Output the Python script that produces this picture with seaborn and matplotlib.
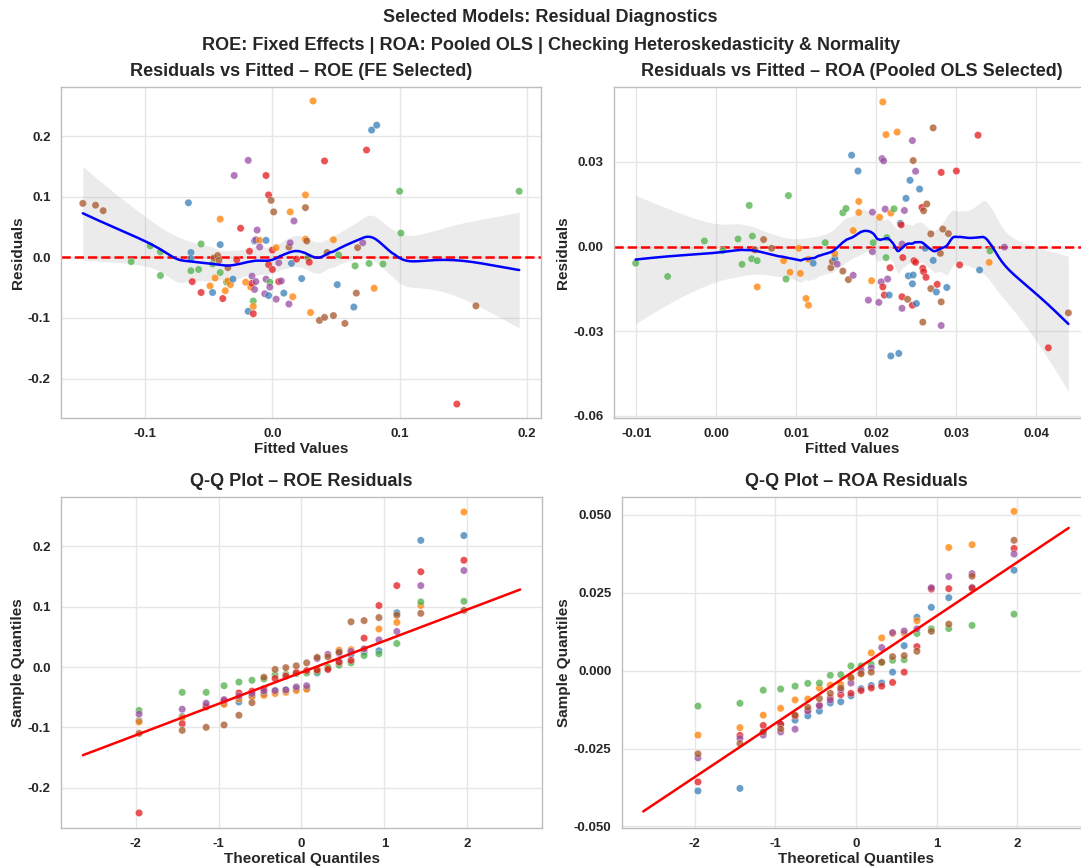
import numpy as np
import pandas as pd
import matplotlib
matplotlib.use("Agg")
import matplotlib.pyplot as plt
import seaborn as sns
from statistics import NormalDist
from matplotlib.ticker import MultipleLocator

# ---------------- data ----------------
firm_names = ["Firm 1", "Firm 2", "Firm 3", "Firm 4", "Firm 5", "Firm 6"]
firm_colors = ["#377eb8", "#ff7f00", "#4daf4a", "#e41a1c", "#984ea3", "#a65628"]
code_to_firm = {"B": "Firm 1", "O": "Firm 2", "G": "Firm 3", "R": "Firm 4", "P": "Firm 5", "N": "Firm 6"}

# ROE (Fixed Effects) residuals vs fitted
roe_fitted = [-0.149, -0.139, -0.133, -0.111, -0.096, -0.088, -0.088, -0.066, -0.064, -0.064,
              -0.064, -0.063, -0.058, -0.056, -0.056, -0.049, -0.047, -0.047, -0.046, -0.045,
              -0.043, -0.041, -0.041, -0.042, -0.041, -0.039, -0.037, -0.036, -0.035, -0.035,
              -0.033, -0.031, -0.028, -0.030, -0.025, -0.021, -0.019, -0.019, -0.018, -0.016,
              -0.017, -0.015, -0.015, -0.015, -0.016, -0.014, -0.013, -0.012, -0.010, -0.010,
              -0.013, -0.014, -0.005, -0.003, -0.001, 0.001, -0.005, -0.006, -0.005, -0.003,
              -0.002, -0.002, -0.003, 0.000, 0.000, 0.003, 0.003, 0.005, 0.005, 0.007,
              0.009, 0.013, 0.013, 0.014, 0.014, 0.016, 0.017, 0.015, 0.019, 0.023,
              0.026, 0.026, 0.026, 0.027, 0.028, 0.029, 0.030, 0.032, 0.041, 0.037,
              0.041, 0.048, 0.048, 0.043, 0.051, 0.052, 0.057, 0.064, 0.065, 0.066,
              0.067, 0.071, 0.074, 0.076, 0.078, 0.082, 0.080, 0.087, 0.100, 0.101,
              0.145, 0.160, 0.194]
roe_resid = [0.089, 0.086, 0.077, -0.007, 0.019, 0.009, -0.030, 0.090, 0.008, -0.002,
             -0.022, -0.040, -0.020, 0.022, -0.058, -0.047, -0.058, -0.011, -0.001, -0.034,
             0.003, 0.063, 0.021, -0.005, -0.025, -0.068, -0.055, -0.041, -0.017, -0.039,
             -0.045, -0.036, -0.004, 0.135, 0.048, -0.041, 0.160, -0.089, 0.010, -0.031,
             -0.049, -0.072, -0.081, -0.093, -0.043, 0.027, 0.029, 0.045, 0.028, 0.017,
             -0.040, -0.053, 0.135, 0.103, 0.094, 0.075, 0.028, -0.060, -0.036, -0.012,
             -0.041, -0.049, -0.063, -0.020, 0.012, 0.016, -0.069, -0.009, -0.040, -0.039,
             -0.059, -0.077, 0.017, 0.024, 0.075, -0.065, 0.060, -0.010, -0.003, -0.035,
             0.103, 0.082, 0.030, 0.027, -0.001, -0.008, -0.091, 0.258, 0.159, -0.104,
             -0.099, -0.096, 0.029, 0.008, -0.045, 0.004, -0.109, -0.082, -0.014, -0.059,
             0.016, 0.024, 0.177, -0.010, 0.210, 0.218, -0.051, -0.011, 0.109, 0.040,
             -0.242, -0.080, 0.109]
roe_firm_codes = list("NNNGGGGBBB" "GRGGROBGNO" "NOBNGROGNO" "OBRPROPBRP" "OGORRBPPOP"
                      "PPRRNNBPPR" "GPBRROPPRP" "BPNPOOPBRB" "ONONGROORN" "NNONBGNBGN"
                      "NPRGBBOGGG" "RNG")

# ROA (Pooled OLS) residuals vs fitted
roa_fitted = [-0.0101, -0.0061, -0.0015, 0.0008, 0.0027, 0.0032, 0.0041, 0.0045, 0.0044, 0.0048,
              0.0051, 0.0051, 0.0059, 0.0069, 0.0084, 0.0087, 0.0090, 0.0092, 0.0103, 0.0105,
              0.0112, 0.0115, 0.0115, 0.0121, 0.0136, 0.0143, 0.0145, 0.0148, 0.0148, 0.0151,
              0.0158, 0.0165, 0.0171, 0.0169, 0.0177, 0.0158, 0.0162, 0.0178, 0.0178, 0.0171,
              0.0195, 0.0196, 0.0195, 0.0194, 0.0190, 0.0203, 0.0204, 0.0206, 0.0208, 0.0208,
              0.0207, 0.0209, 0.0212, 0.0210, 0.0211, 0.0213, 0.0212, 0.0214, 0.0216, 0.0217,
              0.0218, 0.0218, 0.0222, 0.0226, 0.0228, 0.0230, 0.0231, 0.0232, 0.0233, 0.0232,
              0.0232, 0.0235, 0.0237, 0.0239, 0.0240, 0.0242, 0.0245, 0.0245, 0.0245, 0.0246,
              0.0246, 0.0247, 0.0249, 0.0249, 0.0250, 0.0254, 0.0257, 0.0258, 0.0258, 0.0259,
              0.0259, 0.0262, 0.0261, 0.0263, 0.0268, 0.0268, 0.0271, 0.0271, 0.0275, 0.0276,
              0.0280, 0.0281, 0.0281, 0.0281, 0.0283, 0.0288, 0.0290, 0.0300, 0.0304, 0.0327,
              0.0329, 0.0341, 0.0342, 0.0360, 0.0415, 0.0440]
roa_resid = [-0.0059, -0.0106, 0.0020, -0.0014, 0.0027, -0.0063, 0.0146, 0.0037, -0.0043, -0.0012,
             -0.0050, -0.0143, 0.0025, -0.0006, -0.0050, -0.0115, 0.0181, -0.0091, -0.0006, -0.0095,
             -0.0184, -0.0208, -0.0045, -0.0059, 0.0014, -0.0075, -0.0053, -0.0042, -0.0025, -0.0062,
             -0.0087, -0.0117, -0.0102, 0.0324, 0.0268, 0.0120, 0.0135, 0.0160, 0.0121, 0.0057,
             0.0122, 0.0014, -0.0018, -0.0121, -0.0190, -0.0198, 0.0104, -0.0125, -0.0143, 0.0513,
             0.0312, 0.0304, 0.0397, -0.0172, 0.0133, 0.0032, -0.0039, -0.0115, -0.0172, -0.0075,
             0.0119, -0.0388, 0.0134, 0.0406, -0.0379, 0.0082, 0.0077, 0.0009, -0.0039, -0.0178,
             -0.0219, 0.0128, 0.0171, -0.0187, -0.0104, 0.0235, 0.0376, -0.0208, -0.0132, 0.0305,
             -0.0101, -0.0050, -0.0056, 0.0267, -0.0202, 0.0204, 0.0139, -0.0268, -0.0077, -0.0089,
             0.0127, -0.0109, -0.0006, 0.0151, 0.0045, -0.0149, 0.0421, -0.0049, -0.0161, -0.0134,
             -0.0024, 0.0263, -0.0196, -0.0280, 0.0062, -0.0145, 0.0046, 0.0268, -0.0065, 0.0395,
             -0.0083, -0.0056, -0.0015, -0.0002, -0.0359, -0.0235]
roa_firm_codes = list("GGGGGGGGGN" "GONNOGGOOO" "OOOBGNNBOP" "NNPBBGGOOO" "PGPOPPOPRO"
                      "PPORPGGPBR" "OBGOBBRPRR" "PPBNBBPRBN" "BRRPBBRNRR" "NRBNNNNBBR"
                      "NRNPNBNRRR" "BOGPRN")

# Q-Q sample quantiles (sorted residuals per firm, 20 each)
roe_qq_firm1 = [-0.089, -0.082, -0.064, -0.060, -0.058, -0.048, -0.044, -0.040, -0.038, -0.036,
                -0.035, -0.010, -0.003, 0.009, 0.021, 0.025, 0.027, 0.090, 0.210, 0.218]
roe_qq_firm2 = [-0.091, -0.084, -0.066, -0.062, -0.053, -0.049, -0.047, -0.044, -0.042, -0.039,
                -0.037, -0.004, 0.000, 0.028, 0.029, 0.030, 0.063, 0.074, 0.102, 0.257]
roe_qq_firm3 = [-0.072, -0.042, -0.042, -0.031, -0.025, -0.022, -0.020, -0.013, -0.012, -0.011,
                -0.010, -0.008, -0.001, 0.003, 0.007, 0.019, 0.022, 0.039, 0.108, 0.109]
roe_qq_firm4 = [-0.242, -0.094, -0.066, -0.056, -0.043, -0.040, -0.036, -0.019, -0.015, -0.009,
                -0.006, -0.005, -0.004, 0.008, 0.011, 0.048, 0.102, 0.135, 0.158, 0.177]
roe_qq_firm5 = [-0.078, -0.070, -0.060, -0.054, -0.048, -0.044, -0.040, -0.039, -0.038, -0.033,
                -0.031, 0.014, 0.021, 0.023, 0.026, 0.030, 0.045, 0.059, 0.135, 0.160]
roe_qq_firm6 = [-0.110, -0.105, -0.100, -0.096, -0.080, -0.059, -0.017, -0.004, -0.001, 0.002,
                0.007, 0.016, 0.017, 0.025, 0.075, 0.077, 0.082, 0.086, 0.089, 0.094]

roa_qq_firm1 = [-0.0386, -0.0378, -0.0198, -0.0172, -0.0159, -0.0145, -0.0130, -0.0104, -0.0100, -0.0081,
                -0.0058, -0.0048, -0.0040, -0.0005, 0.0080, 0.0171, 0.0203, 0.0234, 0.0267, 0.0322]
roa_qq_firm2 = [-0.0207, -0.0183, -0.0143, -0.0121, -0.0094, -0.0091, -0.0056, -0.0047, -0.0045, -0.0026,
                -0.0008, 0.0057, 0.0105, 0.0119, 0.0120, 0.0160, 0.0262, 0.0395, 0.0404, 0.0511]
roa_qq_firm3 = [-0.0114, -0.0105, -0.0063, -0.0059, -0.0050, -0.0041, -0.0040, -0.0015, -0.0013, 0.0015,
                0.0015, 0.0020, 0.0026, 0.0033, 0.0035, 0.0119, 0.0134, 0.0135, 0.0145, 0.0181]
roa_qq_firm4 = [-0.0357, -0.0208, -0.0176, -0.0172, -0.0146, -0.0127, -0.0111, -0.0088, -0.0077, -0.0073,
                -0.0064, -0.0056, -0.0050, -0.0038, -0.0005, 0.0077, 0.0262, 0.0263, 0.0265, 0.0392]
roa_qq_firm5 = [-0.0280, -0.0218, -0.0207, -0.0197, -0.0188, -0.0130, -0.0113, -0.0095, -0.0062, -0.0040,
                0.0001, 0.0009, 0.0074, 0.0122, 0.0127, 0.0134, 0.0266, 0.0302, 0.0311, 0.0374]
roa_qq_firm6 = [-0.0267, -0.0234, -0.0197, -0.0187, -0.0143, -0.0118, -0.0090, -0.0073, -0.0056, -0.0022,
                -0.0010, -0.0005, 0.0027, 0.0045, 0.0048, 0.0062, 0.0126, 0.0149, 0.0303, 0.0418]

roe_qq = [roe_qq_firm1, roe_qq_firm2, roe_qq_firm3, roe_qq_firm4, roe_qq_firm5, roe_qq_firm6]
roa_qq = [roa_qq_firm1, roa_qq_firm2, roa_qq_firm3, roa_qq_firm4, roa_qq_firm5, roa_qq_firm6]

# ---------------- style ----------------
sns.set_theme(style="whitegrid")
plt.rcParams["font.family"] = ["Liberation Sans", "DejaVu Sans"]
plt.rcParams["axes.unicode_minus"] = False
plt.rcParams["axes.edgecolor"] = "#bdbdbd"
plt.rcParams["grid.color"] = "#e6e6e6"
plt.rcParams["grid.linewidth"] = 1.0

palette = dict(zip(firm_names, firm_colors))
W, H = 1081, 867
fig = plt.figure(figsize=(W / 100, H / 100), dpi=100)


def ax_at(left, top, right, bottom):
    return fig.add_axes([left / W, 1 - bottom / H, (right - left) / W, (bottom - top) / H])


ax_tl = ax_at(61, 87, 541, 418)
ax_tr = ax_at(614, 87, 1090, 418)
ax_bl = ax_at(61, 497, 542, 828)
ax_br = ax_at(622, 497, 1090, 828)


def lowess_band(x, y, grid, frac):
    """Local-linear LOWESS (tricube weights) with an analytic pointwise 95% band."""
    x = np.asarray(x, float)
    y = np.asarray(y, float)
    n = len(x)
    k = int(np.ceil(frac * n))

    def smoother_rows(pts):
        dx = x[None, :] - pts[:, None]
        d = np.abs(dx)
        h = np.maximum(np.sort(d, axis=1)[:, k - 1], 1e-12)
        u = np.clip(d / h[:, None], 0, 1)
        w = (1 - u ** 3) ** 3
        s0 = w.sum(1, keepdims=True)
        s1 = (w * dx).sum(1, keepdims=True)
        s2 = (w * dx * dx).sum(1, keepdims=True)
        den = s0 * s2 - s1 ** 2
        return w * (s2 - s1 * dx) / den

    L_data = smoother_rows(x)
    res = y - L_data @ y
    sigma = np.sqrt(np.sum(res ** 2) / (n - np.trace(L_data)))
    L = smoother_rows(np.asarray(grid, float))
    fit = L @ y
    se = sigma * np.sqrt(np.sum(L ** 2, axis=1))
    return fit, fit - 1.96 * se, fit + 1.96 * se


def resid_panel(ax, fitted, resid, codes, frac, title):
    df = pd.DataFrame({"fitted": fitted, "resid": resid,
                       "firm": [code_to_firm[c] for c in codes]})
    grid = np.linspace(df["fitted"].min(), df["fitted"].max(), 300)
    fit, lo, hi = lowess_band(df["fitted"], df["resid"], grid, frac)
    ax.fill_between(grid, lo, hi, color="#9e9e9e", alpha=0.2, linewidth=0, zorder=1)
    sns.scatterplot(data=df, x="fitted", y="resid", hue="firm", hue_order=firm_names,
                    palette=palette, s=28, alpha=0.75, linewidth=0.3, edgecolor="white",
                    legend=False, ax=ax, zorder=3)
    ax.axhline(0, color="red", linestyle="--", linewidth=1.8, zorder=2)
    ax.plot(grid, fit, color="blue", linewidth=1.8, zorder=4)
    ax.set_title(title, fontsize=13, fontweight="bold", pad=8)
    ax.set_xlabel("Fitted Values", fontsize=11, fontweight="bold", labelpad=1)
    ax.set_ylabel("Residuals", fontsize=11, fontweight="bold", labelpad=2)


def qq_panel(ax, qq_lists, title):
    nd = NormalDist()
    rows = []
    for name, vals in zip(firm_names, qq_lists):
        n = len(vals)
        for i, v in enumerate(sorted(vals)):
            rows.append({"theo": nd.inv_cdf((i + 0.5) / n), "sample": v, "firm": name})
    df = pd.DataFrame(rows)
    pooled = np.sort(df["sample"].to_numpy())
    N = len(pooled)
    q1, q3 = np.percentile(pooled, [25, 75])
    z1, z3 = nd.inv_cdf(0.25), nd.inv_cdf(0.75)
    slope = (q3 - q1) / (z3 - z1)
    inter = q1 - slope * z1
    xs = np.array([nd.inv_cdf(0.5 / N), nd.inv_cdf(1 - 0.5 / N)])
    sns.scatterplot(data=df, x="theo", y="sample", hue="firm", hue_order=firm_names,
                    palette=palette, s=28, alpha=0.75, linewidth=0.3, edgecolor="white",
                    legend=False, ax=ax, zorder=3)
    ax.plot(xs, inter + slope * xs, color="red", linewidth=1.8, zorder=4)
    ax.set_title(title, fontsize=13, fontweight="bold", pad=8)
    ax.set_xlabel("Theoretical Quantiles", fontsize=11, fontweight="bold", labelpad=1)
    ax.set_ylabel("Sample Quantiles", fontsize=11, fontweight="bold", labelpad=2)


resid_panel(ax_tl, roe_fitted, roe_resid, roe_firm_codes, 0.5,
            "Residuals vs Fitted \u2013 ROE (FE Selected)")
resid_panel(ax_tr, roa_fitted, roa_resid, roa_firm_codes, 0.3,
            "Residuals vs Fitted \u2013 ROA (Pooled OLS Selected)")
qq_panel(ax_bl, roe_qq, "Q-Q Plot \u2013 ROE Residuals")
qq_panel(ax_br, roa_qq, "Q-Q Plot \u2013 ROA Residuals")

ax_tl.xaxis.set_major_locator(MultipleLocator(0.1))
ax_tl.set_ylim(-0.265, 0.281)
ax_tr.yaxis.set_major_locator(MultipleLocator(0.03))
ax_tr.set_ylim(-0.0608, 0.0566)
ax_br.yaxis.set_major_locator(MultipleLocator(0.025))
ax_br.set_ylim(-0.0505, 0.0557)

for ax in (ax_tl, ax_tr, ax_bl, ax_br):
    ax.tick_params(labelsize=9.5, pad=1.5)
    for lab in ax.get_xticklabels() + ax.get_yticklabels():
        lab.set_fontweight("bold")
    for sp in ax.spines.values():
        sp.set_color("#bdbdbd")
        sp.set_linewidth(1.0)

fig.text(550 / W, 1 - 18 / H, "Selected Models: Residual Diagnostics",
         ha="center", va="center", fontsize=13, fontweight="bold")
fig.text(551 / W, 1 - 45 / H,
         "ROE: Fixed Effects | ROA: Pooled OLS | Checking Heteroskedasticity & Normality",
         ha="center", va="center", fontsize=13, fontweight="bold")

fig.savefig("out.png", dpi=100)
